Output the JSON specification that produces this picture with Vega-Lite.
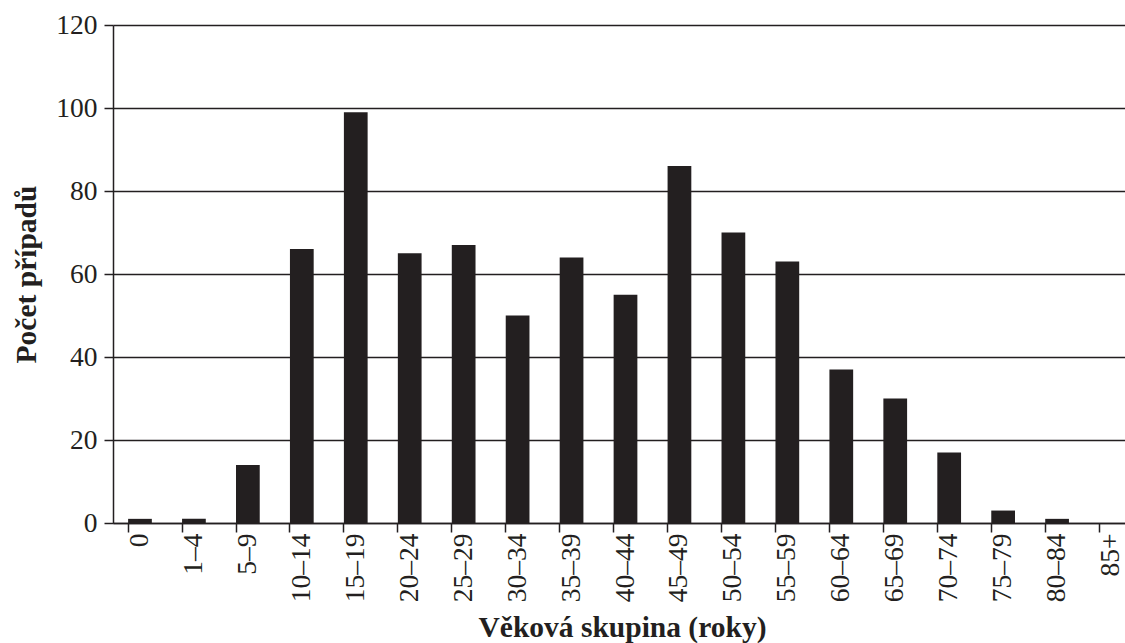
{
  "$schema": "https://vega.github.io/schema/vega-lite/v6.json",
  "autosize": {"type": "none"},
  "width": 1025,
  "height": 498,
  "padding": {"left": 113, "top": 25, "right": -13, "bottom": 120},
  "background": "white",
  "data": {
    "values": [
      {"skupina": "0", "pocet": 1},
      {"skupina": "1–4", "pocet": 1},
      {"skupina": "5–9", "pocet": 14},
      {"skupina": "10–14", "pocet": 66},
      {"skupina": "15–19", "pocet": 99},
      {"skupina": "20–24", "pocet": 65},
      {"skupina": "25–29", "pocet": 67},
      {"skupina": "30–34", "pocet": 50},
      {"skupina": "35–39", "pocet": 64},
      {"skupina": "40–44", "pocet": 55},
      {"skupina": "45–49", "pocet": 86},
      {"skupina": "50–54", "pocet": 70},
      {"skupina": "55–59", "pocet": 63},
      {"skupina": "60–64", "pocet": 37},
      {"skupina": "65–69", "pocet": 30},
      {"skupina": "70–74", "pocet": 17},
      {"skupina": "75–79", "pocet": 3},
      {"skupina": "80–84", "pocet": 1},
      {"skupina": "85+", "pocet": 0}
    ]
  },
  "config": {
    "view": {"stroke": null},
    "font": "Liberation Serif",
    "axis": {
      "labelFont": "Liberation Serif",
      "titleFont": "Liberation Serif",
      "labelColor": "#231f20",
      "titleColor": "#231f20",
      "domainColor": "#231f20",
      "tickColor": "#231f20",
      "gridColor": "#231f20",
      "domainWidth": 1.5,
      "tickWidth": 1.5,
      "gridWidth": 1.5,
      "gridOpacity": 1,
      "tickSize": 9,
      "labelFontSize": 27.5,
      "titleFontSize": 29.5,
      "titleFontWeight": "bold"
    }
  },
  "mark": {"type": "bar", "color": "#231f20"},
  "encoding": {
    "x": {
      "field": "skupina",
      "type": "nominal",
      "sort": null,
      "scale": {"paddingInner": 0.56, "paddingOuter": 0.28},
      "axis": {
        "title": "Věková skupina (roky)",
        "labelAngle": 270,
        "labelAlign": "right",
        "labelBaseline": "middle",
        "labelPadding": 1,
        "bandPosition": 0,
        "grid": false,
        "titleX": 509,
        "titleY": 104,
        "titleBaseline": "middle",
        "titleAnchor": "middle"
      }
    },
    "y": {
      "field": "pocet",
      "type": "quantitative",
      "scale": {"domain": [0, 120], "nice": false},
      "axis": {
        "title": "Počet případů",
        "values": [0, 20, 40, 60, 80, 100, 120],
        "labelPadding": 7,
        "grid": true,
        "titleX": -87,
        "titleBaseline": "middle",
        "titleAngle": -90
      }
    }
  }
}
